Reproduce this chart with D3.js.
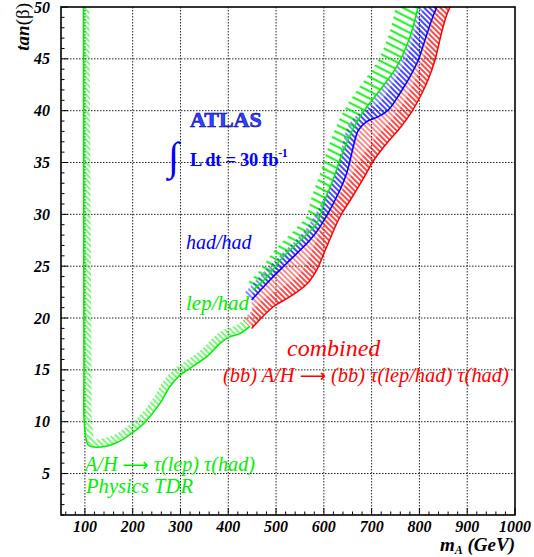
<!DOCTYPE html>
<html><head><meta charset="utf-8">
<script src="https://cdn.jsdelivr.net/npm/d3@7"></script>
<style>
body{margin:0;background:#fff}svg{display:block}
text{font-family:"Liberation Serif","Times New Roman",Times,"DejaVu Serif",serif}
</style>
</head><body>
<svg id="c" width="534" height="557"></svg>
<script>
// ---------- data ----------
const xTickLabels = [100,200,300,400,500,600,700,800,900,1000];
const yTickLabels = [5,10,15,20,25,30,35,40,45,50];

// Physics TDR lep/had contour (left edge + low-tanb edge)
const tdrMA   = [97, 97.5, 98, 99, 107, 124.7, 166.5, 198, 222, 257, 278, 295.5, 320, 355, 382.7, 403.6, 424.5, 445];
const tdrTanB = [50, 30, 15, 9.7, 7.75, 7.53, 7.97, 8.88, 9.78, 11.77, 13.4, 14.34, 15.15, 16.27, 17.56, 18.2, 18.5, 19.2];

// lep/had contour (high-mass edge)
const lepMA   = [452.2, 481.0, 514.5, 556.3, 585.6, 602.3, 619.1, 633.7, 650.5, 669.3, 690.2, 717.5, 752.4, 780.3, 797.0];
const lepTanB = [22.70, 23.96, 25.89, 27.72, 29.16, 31.38, 33.31, 35.24, 37.17, 38.91, 40.38, 41.99, 44.24, 47.14, 50.0];

// had/had contour
const hadMA   = [449, 487.3, 522.3, 571, 591.9, 633.8, 647.8, 665.2, 672, 689.7, 714, 734.9, 759.4, 780.3, 797.6, 811.7, 825.7, 836.2];
const hadTanB = [21.74, 23.67, 25.28, 27.52, 28.8, 32.35, 33.96, 37.17, 38.1, 38.94, 39.42, 40.06, 41.68, 43.28, 44.89, 46.82, 48.75, 50];

// combined contour
const combMA   = [449, 494.2, 529.2, 564.1, 585, 606, 633.8, 656.8, 679.8, 704.9, 732.1, 759.4, 782.4, 801.2, 818.0, 832.6, 845.1, 855.6, 864.0];
const combTanB = [19.0, 21.09, 22.06, 23.26, 24.63, 26.88, 29.77, 31.48, 33.22, 35.24, 36.88, 38.33, 39.78, 41.32, 42.96, 44.89, 47.30, 49.04, 50.0];

// ---------- layout ----------
const L = 61, R = 515, T = 7, B = 515;
const svg = d3.select('#c');
const x = d3.scaleLinear().domain([50, 1000]).range([L, R]);
const y = d3.scaleLinear().domain([1, 50]).range([B, T]);
const GREEN = '#00f000', BLUE = '#0000ff', RED = '#ff0000';

const defs = svg.append('defs');
defs.append('clipPath').attr('id','plotclip').append('rect')
  .attr('x', L).attr('y', T).attr('width', R - L).attr('height', B - T);

function makePattern(id, color, spacing, angle, width) {
  const p = defs.append('pattern').attr('id', id).attr('patternUnits', 'userSpaceOnUse')
    .attr('width', 20).attr('height', spacing).attr('patternTransform', `rotate(${angle})`);
  p.append('line').attr('x1', 0).attr('x2', 20).attr('y1', spacing / 2).attr('y2', spacing / 2)
    .attr('stroke', color).attr('stroke-width', width);
}
makePattern('hGreenLow', GREEN, 4.0, 45, 1);
makePattern('hGreenUp', GREEN, 6.4, 27, 1.8);
makePattern('hBlue', BLUE, 3.8, 45, 0.9);
makePattern('hRed', RED, 3.8, 45, 0.9);

// ---------- grid ----------
const grid = svg.append('g').attr('stroke', '#222').attr('stroke-width', 1).attr('stroke-dasharray', '1.5,1.5');
xTickLabels.filter(v => v < 1000).forEach(v => grid.append('line')
  .attr('x1', x(v)).attr('x2', x(v)).attr('y1', T).attr('y2', B));
yTickLabels.filter(v => v < 50).forEach(v => grid.append('line')
  .attr('x1', L).attr('x2', R).attr('y1', y(v)).attr('y2', y(v)));

// ---------- hatched contours ----------
const plot = svg.append('g').attr('clip-path', 'url(#plotclip)');
const hatchLayer = plot.append('g');
const lineLayer = plot.append('g');
const lineGen = d3.line().x(d => x(d[0])).y(d => y(d[1])).curve(d3.curveCatmullRom.alpha(0.5));

function sample(mA, tb) {
  const d = lineGen(mA.map((m, i) => [m, tb[i]]));
  const tmp = svg.append('path').attr('d', d);
  const node = tmp.node(), len = node.getTotalLength();
  const n = Math.max(20, Math.round(len / 2)), S = [];
  for (let i = 0; i <= n; i++) { const p = node.getPointAtLength(len * i / n); S.push([p.x, p.y]); }
  tmp.remove();
  return { d, S };
}
function band(S, w0, w1) {
  const n = S.length - 1, off = [];
  for (let i = 0; i <= n; i++) {
    const a = S[Math.max(0, i - 2)], b = S[Math.min(n, i + 2)];
    let dx = b[0] - a[0], dy = b[1] - a[1];
    const l = Math.hypot(dx, dy) || 1; dx /= l; dy /= l;
    const w = w0 + (w1 - w0) * i / n;
    off.push([S[i][0] + dy * w, S[i][1] - dx * w]);
  }
  return S.concat(off.reverse());
}
const polyPath = P => 'M' + P.map(p => p[0].toFixed(2) + ',' + p[1].toFixed(2)).join('L') + 'Z';
function fillPoly(P, patId) {
  hatchLayer.append('path').attr('d', polyPath(P)).attr('fill', `url(#${patId})`).attr('stroke', 'none');
}
function drawLine(d, color) {
  lineLayer.append('path').attr('d', d).attr('fill', 'none').attr('stroke', color).attr('stroke-width', 1.5);
}

const tdr = sample(tdrMA, tdrTanB);
const lep = sample(lepMA, lepTanB);
const had = sample(hadMA, hadTanB);
const comb = sample(combMA, combTanB);

// green bands
fillPoly(band(tdr.S, 6, 9), 'hGreenLow');
fillPoly(band(lep.S, 9, 22), 'hGreenUp');
// blue: region between lep/had and had/had contours plus a minimum band
fillPoly(band(had.S, 10, 12), 'hBlue');
fillPoly(had.S.concat(lep.S.slice().reverse()), 'hBlue');
// red: region between had/had and combined contours plus a minimum band
fillPoly(band(comb.S, 12, 12), 'hRed');
fillPoly(comb.S.concat(had.S.slice().reverse()), 'hRed');

drawLine(tdr.d, GREEN);
drawLine(lep.d, GREEN);
drawLine(had.d, BLUE);
drawLine(comb.d, RED);

// ---------- frame & ticks ----------
svg.append('rect').attr('x', L).attr('y', T).attr('width', R - L).attr('height', B - T)
  .attr('fill', 'none').attr('stroke', '#000').attr('stroke-width', 1.6);
const tk = svg.append('g').attr('stroke', '#000').attr('stroke-width', 1);
d3.range(60, 1001, 20).forEach(v => {
  const major = v % 100 === 0;
  tk.append('line').attr('x1', x(v)).attr('x2', x(v)).attr('y1', B).attr('y2', B - (major ? 7 : 3.5));
});
d3.range(1, 51, 1).forEach(v => {
  const major = v % 5 === 0;
  tk.append('line').attr('x1', L).attr('x2', L + (major ? 7 : 3.5)).attr('y1', y(v)).attr('y2', y(v));
});

// tick labels
const lab = svg.append('g').attr('font-weight', 'bold')
  .attr('font-style', 'italic').attr('font-size', 16).attr('fill', '#000');
xTickLabels.forEach(v => lab.append('text').attr('x', x(v)).attr('y', 532).attr('text-anchor', 'middle').text(v));
yTickLabels.forEach(v => lab.append('text').attr('x', 50).attr('y', y(v) + 5.5).attr('text-anchor', 'end').text(v));

// axis titles
const yt = svg.append('text').attr('transform', 'translate(29,3) rotate(-90)').attr('text-anchor', 'end')
  .attr('font-size', 19);
yt.append('tspan').attr('font-weight', 'bold').attr('font-style', 'italic').text('tan');
yt.append('tspan').text('(β)');
const xt = svg.append('text').attr('x', 515).attr('y', 551).attr('text-anchor', 'end')
  .attr('font-size', 19).attr('font-weight', 'bold').attr('font-style', 'italic');
xt.append('tspan').text('m');
xt.append('tspan').attr('font-size', 12).attr('dy', 3).text('A');
xt.append('tspan').attr('dy', -3).text(' (GeV)');

// ---------- annotations ----------
svg.append('text').attr('x', 190).attr('y', 127).attr('font-weight', 'bold')
  .attr('font-size', 22).attr('fill', '#3344ff').attr('stroke', '#0000b0').attr('stroke-width', 0.6).text('ATLAS');
svg.append('text').attr('x', 168).attr('y', 170).attr('font-size', 40)
  .attr('fill', BLUE).text('∫');
const lum = svg.append('text').attr('x', 190).attr('y', 166).attr('font-weight', 'bold')
  .attr('font-size', 18.5).attr('fill', BLUE).attr('letter-spacing', -0.3);
lum.append('tspan').text('L dt = 30 fb');
lum.append('tspan').attr('font-size', 12).attr('dy', -9).text('-1');

const it = (t, xx, yy, size, color) => {
  const el = svg.append('text').attr('x', xx).attr('y', yy)
    .attr('font-style', 'italic').attr('font-size', size).attr('fill', color);
  t.split('→').forEach((part, i) => {
    if (i > 0) el.append('tspan').attr('font-family', "'DejaVu Sans',sans-serif").attr('font-style', 'normal')
      .attr('font-size', size * 0.9).text('\u27F6');
    el.append('tspan').text(part);
  });
  return el;
};
it('had/had', 186, 249, 20, BLUE);
it('lep/had', 186, 310, 21, GREEN);
it('combined', 287, 356, 24, RED);
it('(bb) A/H → (bb) τ(lep/had) τ(had)', 223, 382, 20.4, RED);
it('A/H → τ(lep) τ(had)', 85, 471, 20.2, GREEN);
it('Physics TDR', 86, 493, 20.6, GREEN);
</script>
</body></html>
